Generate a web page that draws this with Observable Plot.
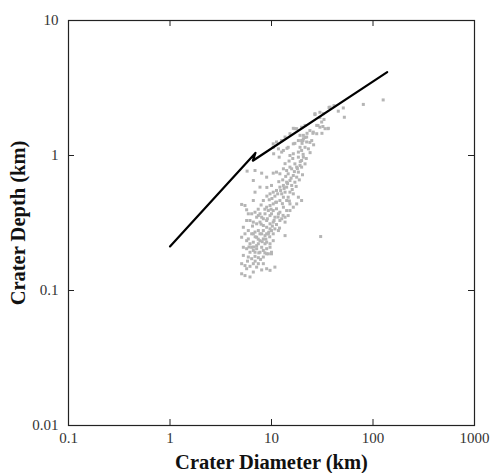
<!DOCTYPE html>
<html><head><meta charset="utf-8">
<script src="https://cdn.jsdelivr.net/npm/d3@7"></script>
<script src="https://cdn.jsdelivr.net/npm/@observablehq/plot@0.6"></script>
<style>
body{margin:0;background:#fff}
#chart svg{display:block}
#chart g[aria-label="x-axis label"], #chart g[aria-label="x-axis label"] text,
#chart g[aria-label="y-axis label"], #chart g[aria-label="y-axis label"] text{font-size:20.5px !important;font-weight:bold;fill:#111}
</style>
</head><body><div id="chart"></div>
<script>
// axis ticks and labels
const xTicks = [0.1, 1, 10, 100, 1000];
const xTickLabels = ["0.1", "1", "10", "100", "1000"];
const yTicks = [0.01, 0.1, 1, 10];
const yTickLabels = ["0.01", "0.1", "1", "10"];
const xInnerTicks = [1, 10, 100];
const yInnerTicks = [0.1, 1];

// depth–diameter trend line (km)
const trendDiameter = [1, 6.95, 6.55, 138];
const trendDepth = [0.212, 1.045, 0.915, 4.14];

// measured craters: [diameter km, depth km]
const largeCraters = [
  [126,2.58],[80.3,2.39],[37.7,2.28],[45.5,2.13],[51.0,2.25],[52.2,1.92],[26.8,2.04],[30.0,2.09],
  [32.4,2.04],[31.2,1.77],[33.7,1.58],[36.3,1.59],[30.0,1.62],[27.9,1.67],[25.8,1.49],[23.9,1.53],
  [21.4,1.67],[19.8,1.62],[17.7,1.58],[16.4,1.59],[15.2,1.45],[13.6,1.37],[12.6,1.29],[11.2,1.26],
  [10.4,1.22],[19.1,1.41],[20.6,1.33],[22.2,1.26],[18.4,1.29],[16.4,1.22],[14.6,1.15],[36.9,2.27],
  [41.3,2.34],[26.8,2.01],[30.0,1.91],[32.9,1.85],[28.7,1.67],[32.1,1.64],[36.0,1.58],[31.4,1.46],
  [25.6,1.46],[22.4,1.46],[21.4,1.36],[20.4,1.29],[20.0,1.23],[23.9,1.25],[17.0,1.58],[17.0,1.23],
  [12.7,1.29],[14.2,1.13],[19.1,1.15],[23.1,1.12],[24.9,1.29],[27.9,1.45],[24.0,1.05],[26.0,1.20]
];
const middleCraters = [
  [10.4,1.15],[11.7,1.12],[13.1,1.09],[10.5,1.03],[11.9,0.972],[12.6,1.06],[15.2,1.00],[16.4,1.03],
  [18.4,1.06],[19.8,1.09],[21.4,1.15],[19.8,1.29],[22.2,1.37],[20.6,1.41],[18.4,0.972],[19.8,0.918],
  [21.4,0.867],[19.1,0.843],[17.0,0.867],[15.2,0.820],[14.1,0.774],[13.1,0.797],[12.1,0.732],[11.2,0.753],
  [10.4,0.740],[14.6,0.732],[16.4,0.711],[18.4,0.753],[19.8,0.820],[15.2,0.653],[14.1,0.634],[13.1,0.600],
  [12.1,0.583],[11.2,0.551],[10.4,0.535],[9.67,0.520],[14.1,0.583],[15.2,0.535],[16.4,0.520],[18.4,0.491],
  [19.8,0.464],[17.7,0.438],[16.4,0.414],[15.2,0.438],[14.1,0.464],[13.1,0.491],[12.1,0.464],[11.2,0.451],
  [10.4,0.438],[9.67,0.426],[8.96,0.414],[8.31,0.464],[7.70,0.583],[6.88,0.535],[6.62,0.653],[5.75,0.766],
  [6.88,0.774],[8.00,0.740],[8.96,0.691],[12.6,0.520],[13.6,0.535],[14.6,0.491],[15.8,0.600],[17.0,0.634],
  [17.7,0.691],[15.8,0.797],[17.7,0.820],[20.6,0.972],[6.62,0.464],[9.0,0.50],[9.5,0.47],[10.1,0.48],
  [10.8,0.50],[11.5,0.52],[12.3,0.55],[13.3,0.57],[14.4,0.62],[15.6,0.68],[16.8,0.76],[18.0,0.80],
  [19.2,0.90],[20.5,1.02],[12.9,0.66],[11.8,0.64],[13.8,0.70],[10.0,0.60],[9.0,0.58],[11.0,0.45],
  [12.8,0.44],[15.0,0.46],[16.0,0.56],[17.5,0.59],[18.8,0.66],[20.2,0.72],[22.0,0.95],[14.9,0.91],
  [16.2,0.95],[13.6,0.87]
];
const smallCraters = [
  [5.08,0.434],[5.48,0.426],[5.69,0.396],[5.91,0.370],[6.38,0.370],[6.88,0.380],[7.42,0.359],[8.00,0.349],
  [8.63,0.370],[9.31,0.391],[10.0,0.370],[10.8,0.349],[11.7,0.370],[12.6,0.340],[13.6,0.349],[14.6,0.359],
  [15.2,0.391],[6.14,0.330],[6.62,0.321],[7.14,0.312],[7.70,0.321],[8.31,0.303],[8.96,0.294],[9.67,0.312],
  [10.4,0.321],[11.2,0.308],[12.1,0.330],[13.6,0.321],[5.91,0.278],[6.38,0.263],[6.88,0.271],[7.42,0.278],
  [8.00,0.263],[8.63,0.255],[9.31,0.263],[10.0,0.278],[10.8,0.286],[13.6,0.255],[30.5,0.251],[5.69,0.234],
  [6.14,0.222],[6.62,0.228],[7.14,0.215],[7.70,0.234],[8.31,0.241],[8.96,0.228],[9.67,0.222],[10.4,0.234],
  [5.28,0.209],[5.69,0.204],[6.14,0.192],[6.62,0.198],[7.14,0.204],[7.70,0.192],[8.31,0.198],[8.96,0.204],
  [9.67,0.209],[10.0,0.192],[5.28,0.182],[5.91,0.177],[6.38,0.172],[6.88,0.179],[7.42,0.175],[8.31,0.177],
  [8.96,0.187],[10.0,0.187],[5.08,0.158],[5.48,0.153],[6.14,0.151],[6.62,0.158],[7.14,0.149],[8.00,0.142],
  [8.96,0.145],[10.8,0.149],[5.08,0.133],[5.48,0.129],[6.14,0.126],[6.62,0.137],[9.67,0.141],[5.69,0.145],
  [5.48,0.263],[5.91,0.241],[6.38,0.209],[6.88,0.192],[7.42,0.222],[8.00,0.209],[8.63,0.222],[9.31,0.187],
  [8.31,0.158],[7.42,0.158],[6.62,0.263],[7.14,0.248],[7.70,0.263],[8.31,0.278],[8.96,0.263],[9.67,0.286],
  [10.4,0.263],[11.7,0.278],[7.14,0.349],[7.70,0.370],[8.31,0.340],[8.96,0.330],[9.67,0.359],[10.4,0.391],
  [11.2,0.403],[12.1,0.380],[13.1,0.414],[14.1,0.391],[5.69,0.330],[5.28,0.294],[5.08,0.248],[9.9,0.40],
  [8.6,0.40],[7.9,0.43],[7.4,0.40],[7.9,0.31],[9.1,0.34],[10.6,0.33],[11.6,0.35],[6.5,0.30],
  [6.9,0.25],[7.4,0.24],[8.1,0.23],[8.8,0.24],[9.6,0.25],[6.0,0.21],[6.7,0.21],[7.5,0.19],
  [8.6,0.19],[6.9,0.165],[7.8,0.17],[5.8,0.165],[9.4,0.27],[10.2,0.30],[12.0,0.29],[13.0,0.36]
];

const craters = [...largeCraters, ...middleCraters, ...smallCraters].map(([D, d]) => ({D, d}));
const trend = trendDiameter.map((D, i) => ({D, d: trendDepth[i]}));

const chart = Plot.plot({
  width: 491,
  height: 473,
  marginLeft: 68,
  marginRight: 17,
  marginTop: 20,
  marginBottom: 48,
  style: {fontFamily: "'Liberation Serif', 'Times New Roman', serif", fontSize: "15px", color: "#000", background: "#fff"},
  x: {type: "log", domain: [0.1, 1000]},
  y: {type: "log", domain: [0.01, 10]},
  marks: [
    Plot.dot(craters, {x: "D", y: "d", symbol: "square", r: 1.7, fill: "#b5b5b5", stroke: "none"}),
    Plot.line(trend, {x: "D", y: "d", stroke: "#000", strokeWidth: 2.2}),
    Plot.frame({stroke: "#222", strokeWidth: 1.2}),
    Plot.tickX(xInnerTicks, {x: d => d, insetTop: 399, stroke: "#222"}),
    Plot.tickX(xInnerTicks, {x: d => d, insetBottom: 399, stroke: "#222"}),
    Plot.tickY(yInnerTicks, {y: d => d, insetRight: 400, stroke: "#222"}),
    Plot.tickY(yInnerTicks, {y: d => d, insetLeft: 400, stroke: "#222"}),
    Plot.axisX({ticks: xTicks, tickFormat: d => xTickLabels[xTicks.indexOf(d)], tickSize: 0, tickPadding: 7,
      label: "Crater Diameter (km)", labelAnchor: "center", labelArrow: "none", labelOffset: 43, fill: "#333"}),
    Plot.axisY({ticks: yTicks, tickFormat: d => yTickLabels[yTicks.indexOf(d)], tickSize: 0, tickPadding: 10,
      label: "Crater Depth (km)", labelAnchor: "center", labelArrow: "none", labelOffset: 58, fill: "#333"})
  ]
});
document.getElementById("chart").appendChild(chart);
</script>
</body></html>
